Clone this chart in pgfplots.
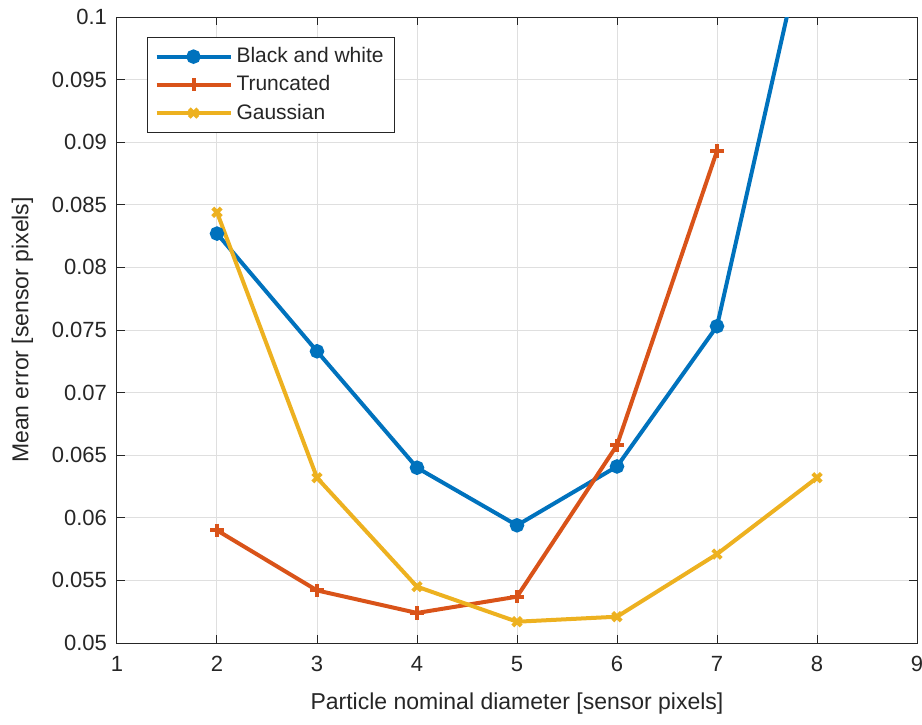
\documentclass[border=0pt]{standalone}
\usepackage{pgfplots}
\pgfplotsset{compat=1.18}
\usepackage{fontspec}
\setmainfont{Liberation Sans}
\definecolor{mblue}{rgb}{0,0.447,0.741}
\definecolor{mred}{rgb}{0.850,0.325,0.098}
\definecolor{myellow}{rgb}{0.929,0.694,0.125}
\definecolor{axgray}{rgb}{0.15,0.15,0.15}
\begin{document}
\begin{tikzpicture}
\begin{axis}[
  scale only axis,
  width=400pt, height=313pt,
  xmin=1, xmax=9, ymin=0.05, ymax=0.1,
  xtick={1,2,...,9},
  ytick={0.05,0.055,...,0.1},
  yticklabels={0.05,0.055,0.06,0.065,0.07,0.075,0.08,0.085,0.09,0.095,0.1},
  grid=major,
  grid style={gray!25, line width=0.5pt},
  axis line style={axgray, line width=0.5pt},
  tick style={axgray, line width=0.5pt},
  tick align=inside,
  major tick length=4pt,
  tick label style={font=\fontsize{11}{13}\selectfont, text=axgray},
  xticklabel style={yshift=-3pt},
  yticklabel style={xshift=-1.5pt},
  label style={font=\fontsize{11.5}{13}\selectfont, text=axgray},
  /pgf/number format/assume math mode=true,
  xlabel={Particle nominal diameter [sensor pixels]},
  ylabel={Mean error [sensor pixels]},
  xlabel style={yshift=-3.5pt},
  ylabel style={yshift=2.5pt},
  legend style={at={(0.0375,0.968)}, anchor=north west, draw=axgray, line width=0.5pt,
    font=\fontsize{10.5}{12}\selectfont, text=axgray, row sep=1pt, inner xsep=3.5pt, inner ysep=3pt},
  legend cell align=left,
  legend image code/.code={
    \draw[mark repeat=2,mark phase=2,#1] plot coordinates {(0pt,0pt) (18.5pt,0pt) (37pt,0pt)};
  },
]
\addplot[mblue, line width=2pt, mark=*, mark size=2.6pt, mark options={solid}]
  coordinates {(2,0.0827) (3,0.0733) (4,0.0640) (5,0.0594) (6,0.0641) (7,0.0753) (8,0.1107)};
\addlegendentry{Black and white}
\addplot[mred, line width=2pt, mark=+, mark size=3.3pt, mark options={line width=2pt}]
  coordinates {(2,0.0590) (3,0.0542) (4,0.0524) (5,0.0537) (6,0.0658) (7,0.0893)};
\addlegendentry{Truncated}
\addplot[myellow, line width=2pt, mark=x, mark size=3pt, mark options={line width=2pt}]
  coordinates {(2,0.0844) (3,0.0632) (4,0.0545) (5,0.0517) (6,0.0521) (7,0.0571) (8,0.0632)};
\addlegendentry{Gaussian}
\end{axis}
\pgfresetboundingbox
\path (-58.5pt,-40.5pt) rectangle (402.5pt,321.5pt);
\end{tikzpicture}
\end{document}
